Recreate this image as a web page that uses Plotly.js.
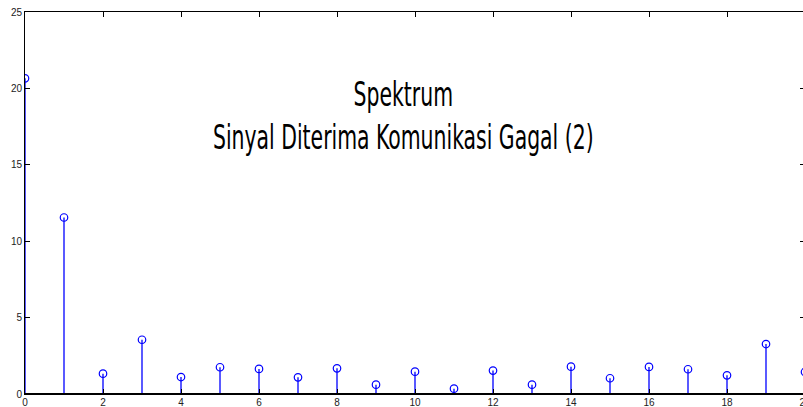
<!DOCTYPE html>
<html>
<head>
<meta charset="utf-8">
<script src="https://cdn.plot.ly/plotly-3.0.1.min.js"></script>
<style>
html,body{margin:0;padding:0;overflow:hidden;background:#fff;}
#chart{width:812px;height:407px;}
</style>
</head>
<body>
<div id="chart"></div>
<script>
const freqIndex = [0,1,2,3,4,5,6,7,8,9,10,11,12,13,14,15,16,17,18,19,20];
const magnitude = [20.66,11.55,1.33,3.55,1.11,1.75,1.64,1.09,1.68,0.61,1.46,0.35,1.53,0.61,1.79,1.03,1.77,1.62,1.22,3.27,1.44];
const xTicks = [0,2,4,6,8,10,12,14,16,18,20];
const yTicks = [0,5,10,15,20,25];
const titleText = 'Spektrum<br>Sinyal Diterima Komunikasi Gagal (2)';

const stemX = [], stemY = [];
freqIndex.forEach((x,i)=>{ stemX.push(x,x,null); stemY.push(0,magnitude[i],null); });

const data = [
  {x:stemX, y:stemY, type:'scatter', mode:'lines', line:{color:'#0000ff', width:1.3}, hoverinfo:'skip', showlegend:false},
  {x:freqIndex, y:magnitude, type:'scatter', mode:'markers',
   marker:{symbol:'circle-open', size:7.5, color:'#0000ff', line:{width:1.2, color:'#0000ff'}}, showlegend:false}
];

const layout = {
  width:812, height:407,
  margin:{l:25, r:7, t:12, b:13},
  paper_bgcolor:'#fff', plot_bgcolor:'#fff',
  showlegend:false,
  font:{family:'Arial, Liberation Sans, sans-serif', size:10, color:'#222'},
  title:{text:titleText, xref:'paper', yref:'paper', x:0.485, y:0.753, xanchor:'center', yanchor:'middle',
         font:{family:'DejaVu Sans Condensed, Liberation Sans Narrow, sans-serif', size:33, color:'#000'}},
  xaxis:{range:[0,20], tickvals:xTicks, ticktext:xTicks.map(String), ticks:'inside', ticklen:5, tickcolor:'#000',
         showline:true, linecolor:'#000', linewidth:1, mirror:'ticks', showgrid:false, zeroline:false,
         ticklabeloverflow:'allow', ticklabelstandoff:-1,
         tickfont:{size:10, color:'#222'}, fixedrange:true},
  yaxis:{range:[0,25], tickvals:yTicks, ticktext:yTicks.map(String), ticks:'inside', ticklen:5, tickcolor:'#000',
         showline:true, linecolor:'#000', linewidth:1, mirror:'ticks', showgrid:false, zeroline:false,
         tickfont:{size:10, color:'#222'}, fixedrange:true},
  shapes:[{type:'line', xref:'paper', yref:'y', x0:0, x1:1, y0:0, y1:0, line:{color:'#000', width:2}}]
};

Plotly.newPlot('chart', data, layout, {displayModeBar:false, staticPlot:true}).then(gd=>{
  // narrow the title horizontally to mimic the condensed original face
  const g = gd.querySelector('.g-gtitle');
  if (!g) return;
  const bb = g.getBBox();
  const target = 381;
  const sx = Math.min(1, target / bb.width);
  const cx = bb.x + bb.width/2;
  g.setAttribute('transform', `translate(${cx},0) scale(${sx},1) translate(${-cx},0)`);
});
</script>
</body>
</html>
